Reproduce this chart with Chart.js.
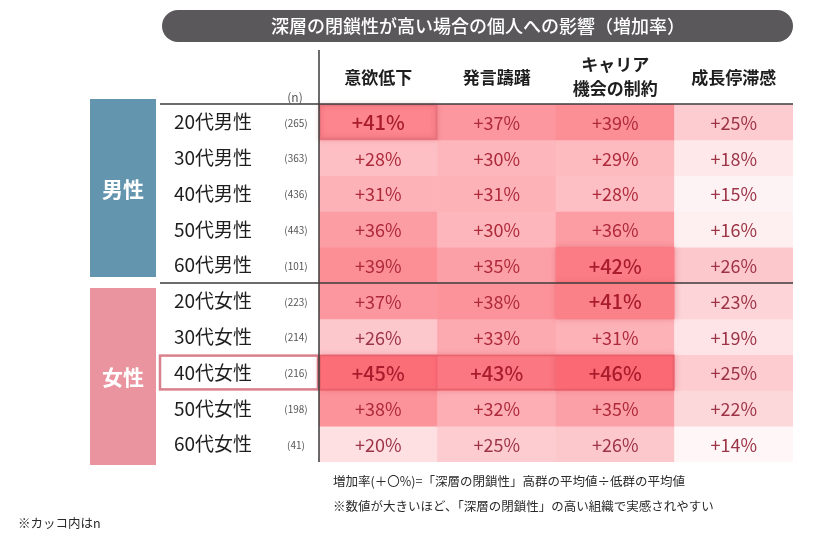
<!DOCTYPE html>
<html>
<head>
<meta charset="utf-8">
<script src="https://cdn.jsdelivr.net/npm/chart.js@4.4.1/dist/chart.umd.min.js"></script>
<style>
  html, body { margin: 0; background: #fff; }
  #wrap { width: 840px; height: 540px; }
</style>
</head>
<body>
<div id="wrap"><canvas id="canva" width="840" height="540"></canvas></div>
<script>
const titulo = "深層の閉鎖性が高い場合の個人への影響（増加率）";
const columnas = ["意欲低下", "発言躊躇", "キャリア\n機会の制約", "成長停滞感"];
const filas = ["20代男性", "30代男性", "40代男性", "50代男性", "60代男性",
               "20代女性", "30代女性", "40代女性", "50代女性", "60代女性"];
const muestras = [265, 363, 436, 443, 101, 223, 214, 216, 198, 41];
const iyokuTeika = [41, 28, 31, 36, 39, 37, 26, 45, 38, 20];
const hatsugenChucho = [37, 30, 31, 30, 35, 38, 33, 43, 32, 25];
const careerSeiyaku = [39, 29, 28, 36, 42, 41, 31, 46, 35, 26];
const seichoTeitai = [25, 18, 15, 16, 26, 23, 19, 25, 22, 14];
const grupos = ["男性", "女性"];
const notas = [
  "増加率(＋〇%)=「深層の閉鎖性」高群の平均値÷低群の平均値",
  "※数値が大きいほど、「深層の閉鎖性」の高い組織で実感されやすい"
];
const notaN = "※カッコ内はn";

const porColumna = [iyokuTeika, hatsugenChucho, careerSeiyaku, seichoTeitai];
// celdas destacadas [fila, columna]
const destacadas = [[4, 2], [5, 2], [7, 0], [7, 1], [7, 2]];

const FUENTE = '"Noto Sans CJK JP", "Noto Sans", sans-serif';

function colorCelda(v) {
  const t = Math.pow((v - 14) / (46 - 14), 1.1);
  const a = [254, 246, 247], b = [251, 110, 120];
  const c = a.map((x, k) => Math.round(x + (b[k] - x) * t));
  return `rgb(${c[0]}, ${c[1]}, ${c[2]})`;
}

const datasets = filas.map((fila, i) => ({
  label: fila,
  data: porColumna.map(() => 1),
  backgroundColor: porColumna.map((col) => colorCelda(col[i])),
  borderWidth: 0,
  categoryPercentage: 1,
  barPercentage: 1
}));

function esDestacada(i, j) {
  return destacadas.some((d) => d[0] === i && d[1] === j);
}

const dibujoTabla = {
  id: "dibujoTabla",
  afterDatasetsDraw(chart) {
    const ctx = chart.ctx;
    const area = chart.chartArea;
    const yEje = chart.scales.y;
    const celda = (i, j) => {
      const el = chart.getDatasetMeta(i).data[j];
      const w = el.width;
      return { x: el.x - w / 2, w: w, y: Math.min(el.y, el.base), h: Math.abs(el.base - el.y), cx: el.x };
    };
    ctx.save();

    // barra de título
    ctx.fillStyle = "#5a585b";
    ctx.beginPath();
    ctx.roundRect(162, 10, 631, 32, 16);
    ctx.fill();
    ctx.fillStyle = "#fff";
    ctx.font = "500 18px " + FUENTE;
    ctx.textAlign = "center";
    ctx.textBaseline = "middle";
    ctx.fillText(titulo, 478, 26);

    // cajas de grupo
    const mitad = yEje.getPixelForValue(5);
    ctx.fillStyle = "#6495ae";
    ctx.fillRect(90, 99, 66, 178);
    ctx.fillStyle = "#e9949f";
    ctx.fillRect(90, 288, 66, 177);
    ctx.fillStyle = "#fff";
    ctx.font = "bold 21px " + FUENTE;
    ctx.fillText(grupos[0], 123, 189);
    ctx.fillText(grupos[1], 123, 377);

    // caja de la fila 40代女性
    const y7a = yEje.getPixelForValue(7), y7b = yEje.getPixelForValue(8);
    ctx.strokeStyle = "#d9808c";
    ctx.lineWidth = 2.5;
    ctx.strokeRect(160, y7a + 1, area.left - 161, y7b - y7a - 2);

    // celdas destacadas (sombra)
    destacadas.forEach(([i, j]) => {
      const c = celda(i, j);
      ctx.save();
      ctx.shadowColor = "rgba(200, 40, 60, 0.3)";
      ctx.shadowBlur = 6;
      ctx.fillStyle = colorCelda(porColumna[j][i] + 1);
      ctx.fillRect(c.x, c.y, c.w, c.h);
      ctx.restore();
    });

    // borde de 20代男性 × 意欲低下
    const c0 = celda(0, 0);
    ctx.save();
    ctx.shadowColor = "rgba(190, 40, 60, 0.35)";
    ctx.shadowBlur = 5;
    ctx.strokeStyle = "#e6747e";
    ctx.lineWidth = 2;
    ctx.strokeRect(c0.x + 1, c0.y + 1, c0.w - 2, c0.h - 2);
    ctx.restore();

    // borde de la fila 40代女性 (tres columnas)
    const ca = celda(7, 0), cb = celda(7, 2);
    ctx.save();
    ctx.strokeStyle = "rgba(225, 95, 105, 0.8)";
    ctx.lineWidth = 1.5;
    ctx.strokeRect(ca.x + 1, ca.y + 1, cb.x + cb.w - ca.x - 2, ca.h - 2);
    ctx.restore();

    // líneas
    ctx.strokeStyle = "#3c3c3c";
    ctx.lineWidth = 1.5;
    ctx.beginPath();
    ctx.moveTo(area.left, 50);
    ctx.lineTo(area.left, area.bottom);
    ctx.moveTo(160, area.top);
    ctx.lineTo(area.right, area.top);
    ctx.moveTo(160, mitad);
    ctx.lineTo(area.right, mitad);
    ctx.stroke();

    // encabezados
    ctx.fillStyle = "#1e1e1e";
    ctx.font = "bold 17px " + FUENTE;
    columnas.forEach((txt, j) => {
      const cx = celda(0, j).cx;
      const lineas = txt.split("\n");
      if (lineas.length === 1) {
        ctx.fillText(lineas[0], cx, 78);
      } else {
        ctx.fillText(lineas[0], cx, 65);
        ctx.fillText(lineas[1], cx, 89);
      }
    });
    ctx.fillStyle = "#555";
    ctx.font = "12px " + FUENTE;
    ctx.fillText("(n)", 295, 97);

    // etiquetas de fila y n
    filas.forEach((fila, i) => {
      const cy = yEje.getPixelForValue(i + 0.5);
      ctx.textAlign = "left";
      ctx.fillStyle = "#1e1e1e";
      ctx.font = "19px " + FUENTE;
      ctx.fillText(fila, 174, cy);
      ctx.textAlign = "center";
      ctx.fillStyle = "#555";
      ctx.font = "10px " + FUENTE;
      ctx.fillText("(" + muestras[i] + ")", 296, cy + 1);
    });

    // valores de las celdas
    filas.forEach((fila, i) => {
      porColumna.forEach((col, j) => {
        const c = celda(i, j);
        const fuerte = esDestacada(i, j) || (i === 0 && j === 0);
        ctx.fillStyle = fuerte ? "#a81c2c" : (col[i] < 27 ? "#9c3446" : "#ae2a3b");
        ctx.font = (fuerte ? "500 20px " : "18px ") + FUENTE;
        ctx.textAlign = "center";
        ctx.fillText("+" + col[i] + "%", c.cx, c.y + c.h / 2 + 1);
      });
    });

    // notas
    ctx.fillStyle = "#2a2a2a";
    ctx.font = "12.5px " + FUENTE;
    ctx.textAlign = "left";
    ctx.fillText(notas[0], 333, 481);
    ctx.fillText(notas[1], 333, 506);
    ctx.fillText(notaN, 18, 523);
    ctx.restore();
  }
};

new Chart(document.getElementById("canva").getContext("2d"), {
  type: "bar",
  data: { labels: columnas, datasets: datasets },
  options: {
    responsive: false,
    animation: false,
    layout: { padding: { left: 319, right: 47, top: 104, bottom: 78 } },
    scales: {
      x: { stacked: true, display: false },
      y: { stacked: true, display: false, reverse: true, min: 0, max: filas.length }
    },
    plugins: { legend: { display: false }, tooltip: { enabled: false } }
  },
  plugins: [dibujoTabla]
});
</script>
</body>
</html>
